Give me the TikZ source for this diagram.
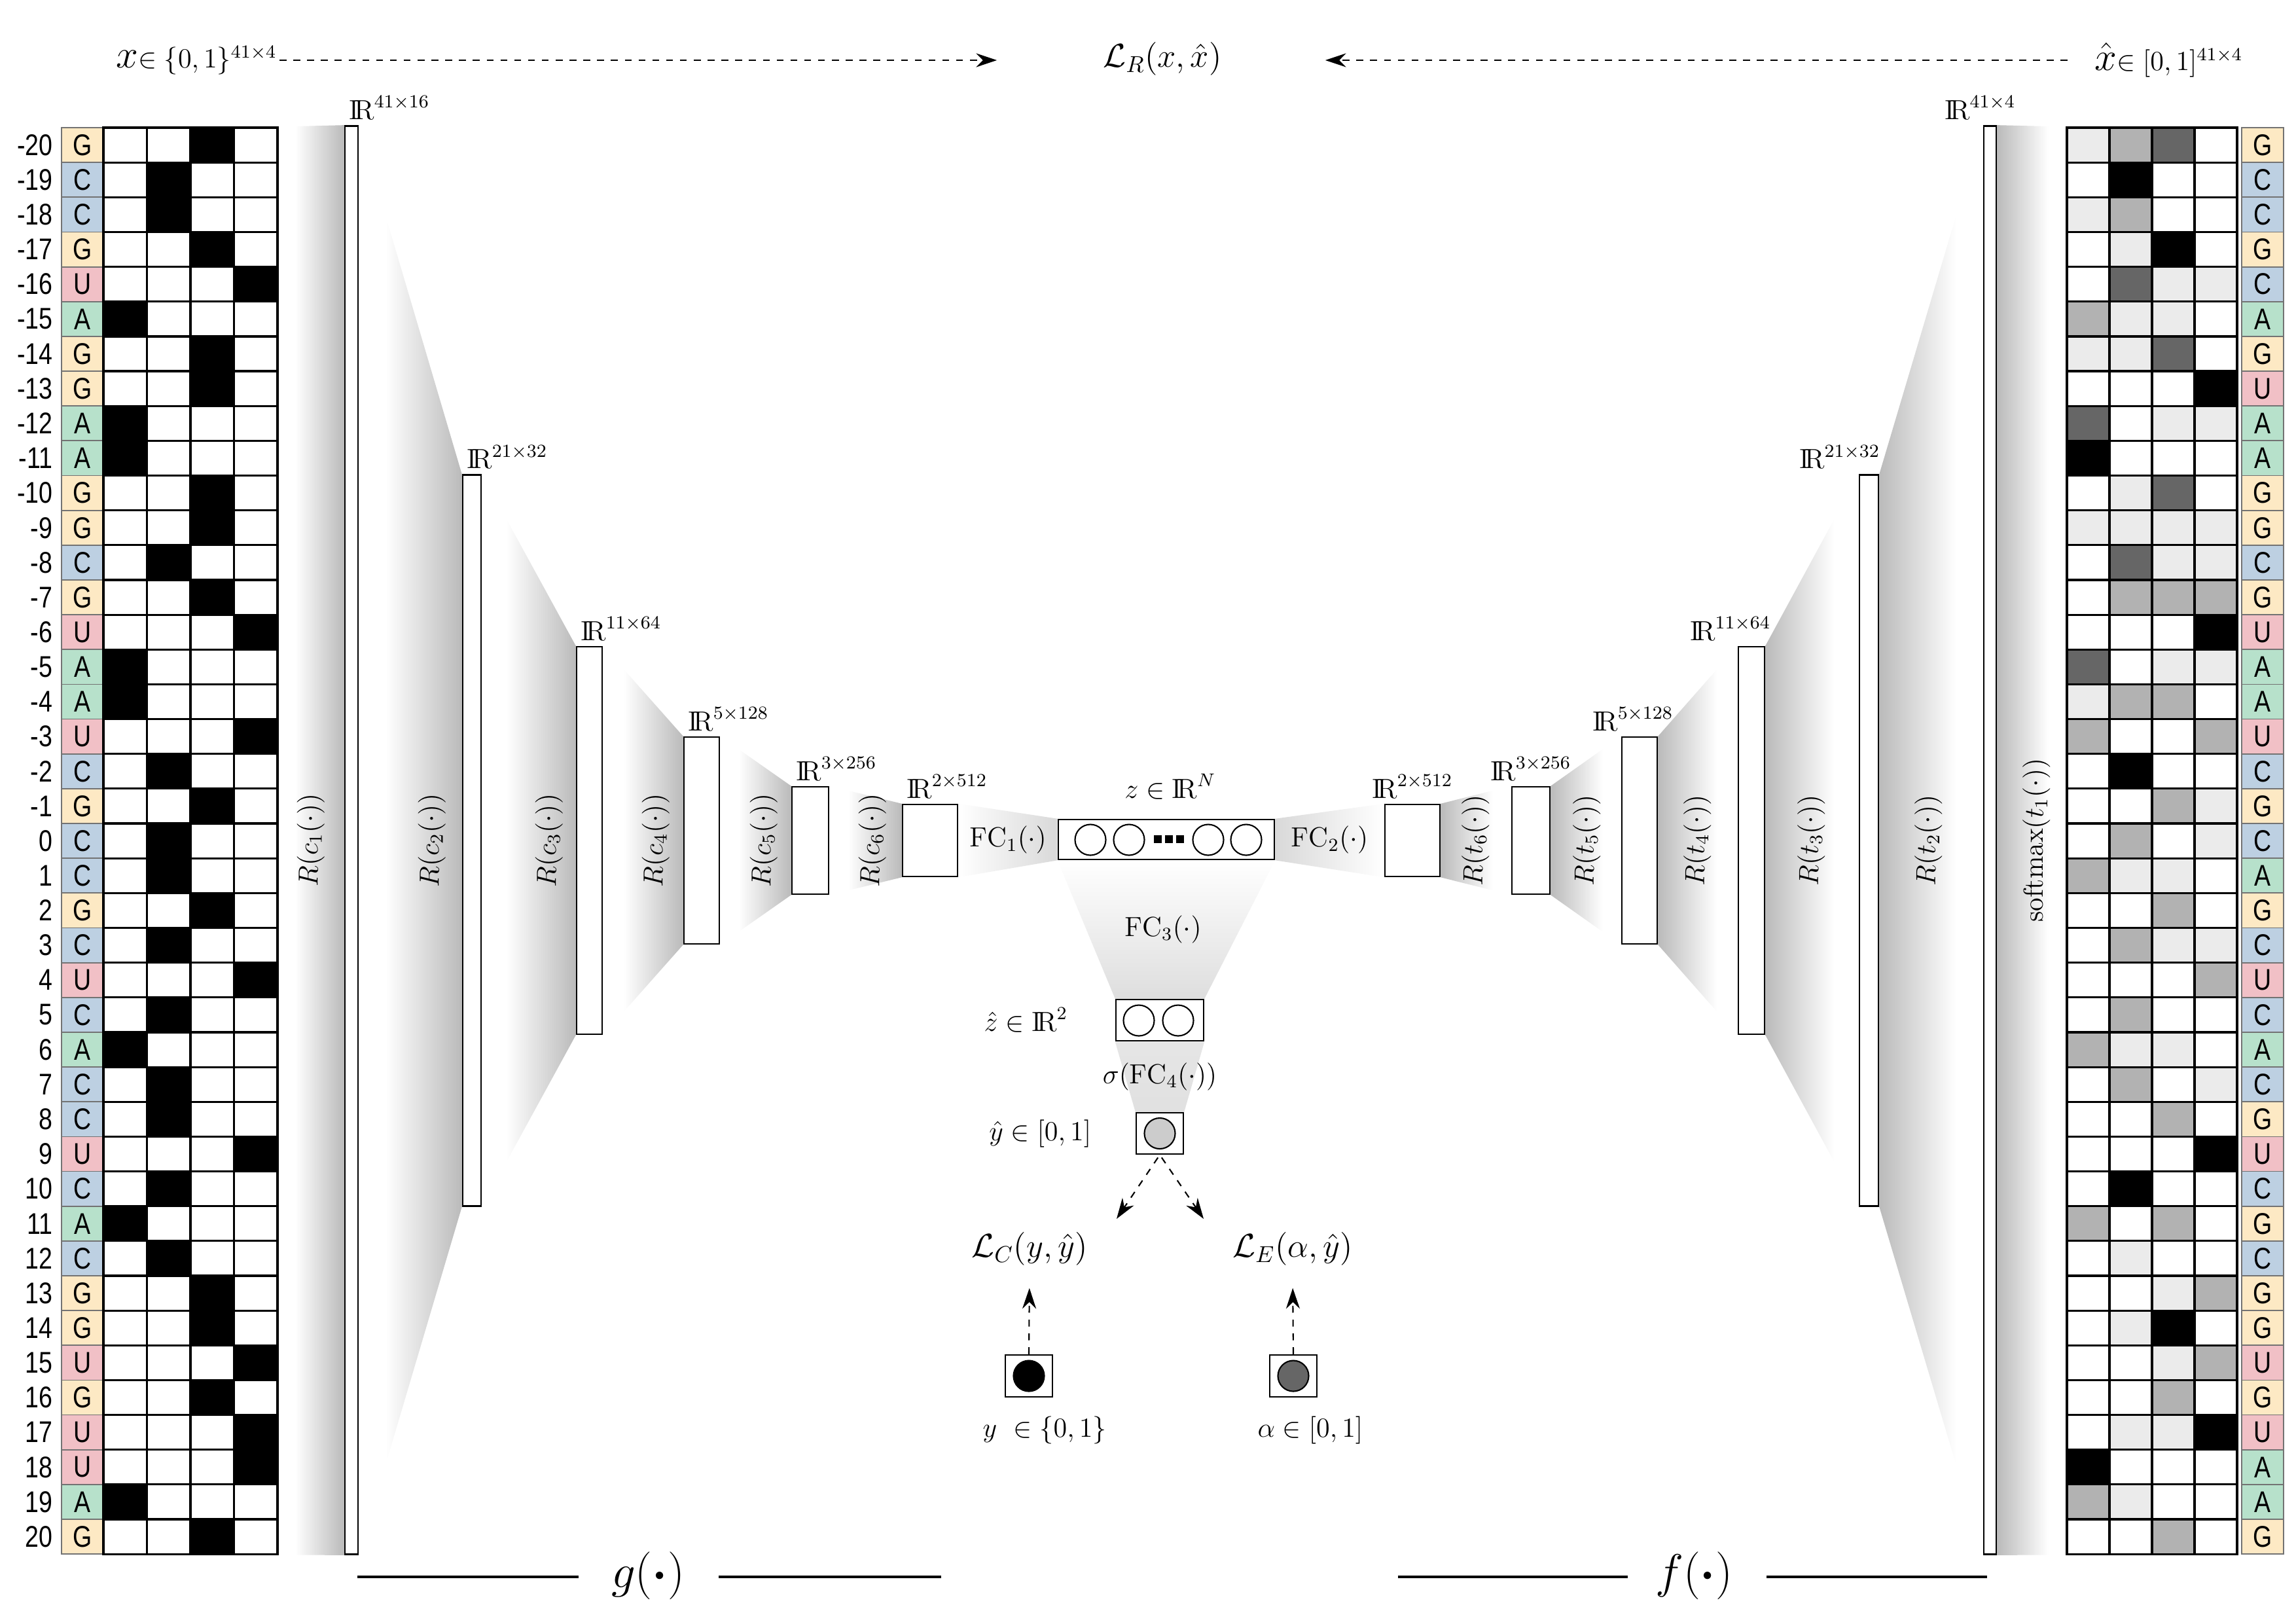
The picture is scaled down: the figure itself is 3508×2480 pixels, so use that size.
\documentclass[tikz,border=0pt]{standalone}
\usepackage{amsmath,amssymb}
\usepackage{fontspec}
\newfontfamily\seqfont{Liberation Sans}[FakeStretch=0.82]
\usetikzlibrary{arrows.meta,calc,positioning}

\newcommand{\Rset}{\mathrm{I\!R}}
\newcommand{\seqsize}{\fontsize{13}{15}\selectfont}

\definecolor{nucA}{HTML}{B7E1CB}
\definecolor{nucC}{HTML}{BDD0E2}
\definecolor{nucG}{HTML}{FDE9C4}
\definecolor{nucU}{HTML}{F1C0C6}
\colorlet{bandgray}{black!27}
\colorlet{fcgray}{black!15}

\pgfdeclarehorizontalshading{encband}{100bp}{color(0bp)=(white); color(38bp)=(white); color(75bp)=(bandgray); color(100bp)=(bandgray)}
\pgfdeclarehorizontalshading{decband}{100bp}{color(0bp)=(bandgray); color(25bp)=(bandgray); color(62bp)=(white); color(100bp)=(white)}

\pgfdeclarelayer{background}
\pgfsetlayers{background,main}

\begin{document}
\begin{tikzpicture}[
    x=0.01cm, y=-0.01cm,
    fmap/.style={rectangle, draw, fill=white, line width=0.7pt, inner sep=0pt},
    neuron/.style={circle, draw, line width=0.6pt, minimum size=0.47cm, inner sep=0pt},
    dimlabel/.style={inner sep=2pt, font=\large},
    oplabel/.style={rotate=90, font=\large},
    cell/.style={draw, line width=0.9pt},
    nuc/.style={draw=black!55, line width=0.5pt},
    loss/.style={draw, dashed, line width=0.6pt, -{Stealth[length=9pt,width=6pt]}},
    rule/.style={line width=1pt}
]
\useasboundingbox (0,0) rectangle (3508,2480);

% input sequence x (one-hot)
\node[inner sep=0pt, minimum width=2.66cm, minimum height=21.79cm] (xin) at (291,1284.5) {};
\foreach \nt/\k [count=\i from 0] in {G/3,C/2,C/2,G/3,U/4,A/1,G/3,G/3,A/1,A/1,G/3,G/3,C/2,G/3,U/4,A/1,A/1,U/4,C/2,G/3,C/2,C/2,G/3,C/2,U/4,C/2,A/1,C/2,C/2,U/4,C/2,A/1,C/2,G/3,G/3,U/4,G/3,U/4,U/4,A/1,G/3} {
    \pgfmathsetmacro\yt{195+53.15*\i}
    \pgfmathtruncatemacro\pos{\i-20}
    \node[anchor=east, font=\seqfont\seqsize, inner sep=2pt] (num\i) at (88,\yt+26.6) {\pos};
    \draw[nuc, fill=nuc\nt] (94,\yt) rectangle ++(64,53.15);
    \node[font=\seqfont\seqsize] (xb\i) at (126,\yt+26.6) {\nt};
    \foreach \col in {0,...,3}
        \draw[cell, fill=white] (158+66.5*\col,\yt) rectangle ++(66.5,53.15);
    \draw[cell, fill=black] (158+66.5*\k-66.5,\yt) rectangle ++(66.5,53.15);
}

% reconstruction x-hat (softmax output)
\node[inner sep=0pt, minimum width=2.60cm, minimum height=21.79cm] (xout) at (3288,1284.5) {};
\foreach \nt/\pa/\pc/\pg/\pu [count=\i from 0] in {G/8/30/60/0,C/0/100/0/0,C/8/30/0/0,G/0/8/100/0,C/0/60/8/8,A/30/8/8/0,G/8/8/60/0,U/0/0/0/100,A/60/0/8/8,A/100/0/0/0,G/0/8/60/0,G/8/8/8/8,C/0/60/8/8,G/0/30/30/30,U/0/0/0/100,A/60/0/8/8,A/8/30/30/0,U/30/0/0/30,C/0/100/0/0,G/0/0/30/8,C/0/30/0/8,A/30/8/8/0,G/0/0/30/0,C/0/30/8/8,U/0/0/0/30,C/0/30/0/0,A/30/8/8/0,C/0/30/0/8,G/0/0/30/0,U/0/0/0/100,C/0/100/0/0,G/30/0/30/0,C/0/8/0/0,G/0/0/8/30,G/0/8/100/0,U/0/0/8/30,G/0/0/30/0,U/0/8/8/100,A/100/0/0/0,A/30/8/0/0,G/0/0/30/0} {
    \pgfmathsetmacro\yt{195+53.15*\i}
    \draw[cell, fill=black!\pa] (3158,\yt) rectangle ++(65,53.15);
    \draw[cell, fill=black!\pc] (3223,\yt) rectangle ++(65,53.15);
    \draw[cell, fill=black!\pg] (3288,\yt) rectangle ++(65,53.15);
    \draw[cell, fill=black!\pu] (3353,\yt) rectangle ++(65,53.15);
    \draw[nuc, fill=nuc\nt] (3425,\yt) rectangle ++(64,53.15);
    \node[font=\seqfont\seqsize] (xh\i) at (3457,\yt+26.6) {\nt};
}

% encoder g
\node[fmap, minimum width=0.20cm, minimum height=21.81cm] (c1) at (537,1283.5) {};
\node[fmap, minimum width=0.28cm, minimum height=11.16cm] (c2) at (721,1284) {};
\node[fmap, minimum width=0.39cm, minimum height=5.92cm] (c3) at (900.5,1284) {};
\node[fmap, minimum width=0.54cm, minimum height=3.16cm] (c4) at (1072,1284) {};
\node[fmap, minimum width=0.56cm, minimum height=1.64cm] (c5) at (1238,1284) {};
\node[fmap, minimum width=0.84cm, minimum height=1.10cm] (c6) at (1421,1284) {};

% latent code
\node[fmap, minimum width=3.30cm, minimum height=0.61cm] (z) at (1782,1282.5) {};
\foreach \u/\px in {1/1666,2/1725,3/1846,4/1904}
    \node[neuron] (z\u) at (\px,1283) {};
\foreach \px in {1769,1786,1803}
    \fill (\px-6,1276) rectangle ++(12,12);

% decoder f
\node[fmap, minimum width=0.84cm, minimum height=1.10cm] (d6) at (2158,1284) {};
\node[fmap, minimum width=0.58cm, minimum height=1.64cm] (d5) at (2339,1284) {};
\node[fmap, minimum width=0.54cm, minimum height=3.16cm] (d4) at (2505,1284) {};
\node[fmap, minimum width=0.40cm, minimum height=5.92cm] (d3) at (2676,1284) {};
\node[fmap, minimum width=0.29cm, minimum height=11.16cm] (d2) at (2855.5,1284) {};
\node[fmap, minimum width=0.19cm, minimum height=21.81cm] (d1) at (3040.5,1283.5) {};

% classifier head
\node[fmap, minimum width=1.34cm, minimum height=0.63cm] (zh) at (1772,1558.5) {};
\node[neuron] (zh1) at (1740,1559) {};
\node[neuron] (zh2) at (1800,1559) {};
\node[fmap, minimum width=0.72cm, minimum height=0.63cm] (yh) at (1772,1731.5) {};
\node[neuron, fill=black!20] (yh0) at (yh) {};
\node[fmap, minimum width=0.72cm, minimum height=0.64cm] (ybox) at (1572,2102) {};
\node[neuron, fill=black] (y0) at (ybox) {};
\node[fmap, minimum width=0.72cm, minimum height=0.64cm] (abox) at (1976,2102) {};
\node[neuron, fill=black!60] (a0) at (abox) {};

% shaded transitions
\begin{pgfonlayer}{background}
\shade[shading=encband] (xin.north east) -- (c1.north west) -- (c1.south west) -- (xin.south east) -- cycle;
\shade[shading=encband] (c1.north east) -- (c2.north west) -- (c2.south west) -- (c1.south east) -- cycle;
\shade[shading=encband] (c2.north east) -- (c3.north west) -- (c3.south west) -- (c2.south east) -- cycle;
\shade[shading=encband] (c3.north east) -- (c4.north west) -- (c4.south west) -- (c3.south east) -- cycle;
\shade[shading=encband] (c4.north east) -- (c5.north west) -- (c5.south west) -- (c4.south east) -- cycle;
\shade[shading=encband] (c5.north east) -- (c6.north west) -- (c6.south west) -- (c5.south east) -- cycle;
\shade[left color=white, right color=fcgray] (c6.north east) -- (z.north west) -- (z.south west) -- (c6.south east) -- cycle;
\shade[left color=fcgray, right color=white] (z.north east) -- (d6.north west) -- (d6.south west) -- (z.south east) -- cycle;
\shade[shading=decband] (d6.north east) -- (d5.north west) -- (d5.south west) -- (d6.south east) -- cycle;
\shade[shading=decband] (d5.north east) -- (d4.north west) -- (d4.south west) -- (d5.south east) -- cycle;
\shade[shading=decband] (d4.north east) -- (d3.north west) -- (d3.south west) -- (d4.south east) -- cycle;
\shade[shading=decband] (d3.north east) -- (d2.north west) -- (d2.south west) -- (d3.south east) -- cycle;
\shade[shading=decband] (d2.north east) -- (d1.north west) -- (d1.south west) -- (d2.south east) -- cycle;
\shade[shading=decband] (d1.north east) -- (xout.north west) -- (xout.south west) -- (d1.south east) -- cycle;
\shade[top color=white, bottom color=black!13] (z.south west) -- (z.south east) -- (zh.north east) -- (zh.north west) -- cycle;
\shade[top color=black!10, bottom color=black!12] (zh.south west) -- (zh.south east) -- (yh.north east) -- (yh.north west) -- cycle;
\end{pgfonlayer}

% sizes
\node[dimlabel, anchor=south west] (c1dim) at (c1.north west) {$\Rset^{41\times16}$};
\node[dimlabel, anchor=south west] (c2dim) at (c2.north west) {$\Rset^{21\times32}$};
\node[dimlabel, anchor=south west] (c3dim) at (c3.north west) {$\Rset^{11\times64}$};
\node[dimlabel, anchor=south west] (c4dim) at (c4.north west) {$\Rset^{5\times128}$};
\node[dimlabel, anchor=south west] (c5dim) at (c5.north west) {$\Rset^{3\times256}$};
\node[dimlabel, anchor=south west] (c6dim) at (c6.north west) {$\Rset^{2\times512}$};
\node[dimlabel, anchor=south] (d6dim) at (d6.north) {$\Rset^{2\times512}$};
\node[dimlabel, anchor=south] (d5dim) at (d5.north) {$\Rset^{3\times256}$};
\node[dimlabel, anchor=south] (d4dim) at ($(d4.north)+(-10,0)$) {$\Rset^{5\times128}$};
\node[dimlabel, anchor=south east] (d3dim) at ($(d3.north east)+(16,0)$) {$\Rset^{11\times64}$};
\node[dimlabel, anchor=south east] (d2dim) at ($(d2.north east)+(9,0)$) {$\Rset^{21\times32}$};
\node[dimlabel, anchor=south east] (d1dim) at ($(d1.north east)+(36,0)$) {$\Rset^{41\times4}$};

% operations
\node[oplabel] (opc1) at ($(c1.west)+(-51,0)$) {$R(c_1(\cdot))$};
\node[oplabel] (opc2) at ($(c2.west)+(-46,0)$) {$R(c_2(\cdot))$};
\node[oplabel] (opc3) at ($(c3.west)+(-41,0)$) {$R(c_3(\cdot))$};
\node[oplabel] (opc4) at ($(c4.west)+(-42,0)$) {$R(c_4(\cdot))$};
\node[oplabel] (opc5) at ($(c5.west)+(-42,0)$) {$R(c_5(\cdot))$};
\node[oplabel] (opc6) at ($(c6.west)+(-45,0)$) {$R(c_6(\cdot))$};
\node[font=\large] (fc1) at ($(c6.east)!0.5!(z.west)$) {$\mathrm{FC}_1(\cdot)$};
\node[font=\large] (fc2) at ($(z.east)!0.5!(d6.west)$) {$\mathrm{FC}_2(\cdot)$};
\node[oplabel] (opt6) at ($(d6.east)+(53,0)$) {$R(t_6(\cdot))$};
\node[oplabel] (opt5) at ($(d5.east)+(55,0)$) {$R(t_5(\cdot))$};
\node[oplabel] (opt4) at ($(d4.east)+(60,0)$) {$R(t_4(\cdot))$};
\node[oplabel] (opt3) at ($(d3.east)+(70,0)$) {$R(t_3(\cdot))$};
\node[oplabel] (opt2) at ($(d2.east)+(75,0)$) {$R(t_2(\cdot))$};
\node[oplabel] (opt1) at ($(d1.east)+(60,0)$) {$\mathrm{softmax}(t_1(\cdot))$};
\node[font=\large] (fc3) at ($(z.south)!0.5!(zh.north)$) {$\mathrm{FC}_3(\cdot)$};
\node[font=\large] (fc4) at ($(zh.south)!0.5!(yh.north)$) {$\sigma(\mathrm{FC}_4(\cdot))$};

% variables
\node[font=\large] (zlab) at (1788,1202) {$z\in\Rset^N$};
\node[font=\large, left=0.6cm of zh] (zhlab) {$\hat{z}\in\Rset^2$};
\node[font=\large, left=0.55cm of yh] (yhlab) {$\hat{y}\in[0,1]$};
\node[font=\large] (ylab) at ($(ybox.south)+(24,50)$) {$y\ \in\{0,1\}$};
\node[font=\large] (alab) at ($(abox.south)+(26,50)$) {$\alpha\in[0,1]$};
\node[font=\large, anchor=east, inner sep=1pt] (xlab) at (427,92) {{\LARGE$x$}$\in\{0,1\}^{41\times4}$};
\node[font=\large, anchor=west, inner sep=1pt] (xhlab) at (3196,92) {{\LARGE$\hat{x}$}$\in[0,1]^{41\times4}$};

% losses
\node[font=\Large] (LR) at (1776,90) {$\mathcal{L}_R(x,\hat{x})$};
\node[font=\Large] (LC) at (1573,1908) {$\mathcal{L}_C(y,\hat{y})$};
\node[font=\Large] (LE) at (1975,1908) {$\mathcal{L}_E(\alpha,\hat{y})$};
\coordinate (lcin) at (1706,1862);
\coordinate (lein) at (1839,1862);
\draw[loss, shorten >=1.5cm] (xlab.east) -- (xlab.east -| LR.west);
\draw[loss, shorten <=0.37cm, shorten >=1.46cm] (xhlab.west) -- (xhlab.west -| LR.east);
\draw[loss, shorten <=0.05cm] (yh.south) -- (lcin);
\draw[loss, shorten <=0.05cm] (yh.south) -- (lein);
\draw[loss, shorten >=0.22cm] (ybox.north) -- (LC.south);
\draw[loss, shorten >=0.22cm] (abox.north) -- (LE.south);

% encoder / decoder names
\node[font=\huge] (gname) at (990,2407) {$g(\boldsymbol{\cdot})$};
\node[font=\huge] (fname) at (2588,2407) {$f(\boldsymbol{\cdot})$};
\draw[rule] ([xshift=-0.38cm]gname.west |- 0,2409) -- ++(-338,0);
\draw[rule] ([xshift=0.4cm]gname.east |- 0,2409) -- ++(340,0);
\draw[rule] ([xshift=-0.3cm]fname.west |- 0,2409) -- ++(-351,0);
\draw[rule] ([xshift=0.4cm]fname.east |- 0,2409) -- ++(337,0);
\end{tikzpicture}
\end{document}
